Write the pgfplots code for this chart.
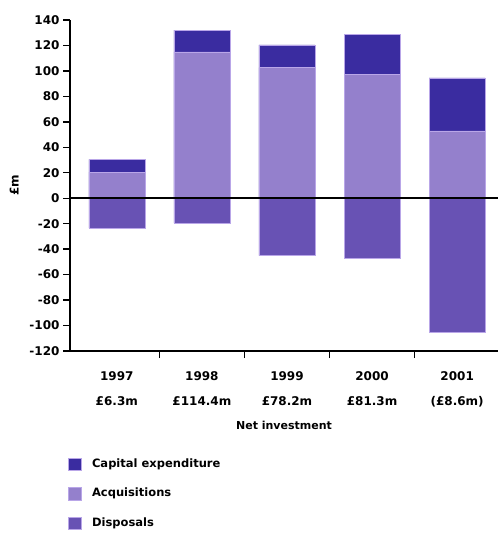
\documentclass[border=0pt]{standalone}
\usepackage{pgfplots}
\pgfplotsset{compat=1.18}
\usepackage{fontspec}
\setmainfont{DejaVu Sans}
\definecolor{capex}{RGB}{58,44,160}
\definecolor{acq}{RGB}{148,128,204}
\definecolor{disp}{RGB}{104,82,180}
\definecolor{edge}{RGB}{185,166,232}
\begin{document}
\begin{tikzpicture}
\path (0pt,0pt) rectangle (498pt,535pt);
\begin{axis}[
  at={(70pt,184pt)}, anchor=south west,
  scale only axis, width=428pt, height=331pt,
  xmin=-0.55, xmax=4.48, ymin=-120, ymax=140,
  axis lines=left, axis line style={-, line width=1.6pt},
  ytick={-120,-100,...,140},
  yticklabel style={font=\fontsize{12}{14}\selectfont\bfseries},
  /pgf/number format/assume math mode=true,
  tick align=outside, major tick length=7pt,
  tick style={black, line width=1.4pt},
  xtick={0.5,1.5,2.5,3.5}, xticklabels={},
  extra x ticks={0,1,2,3,4},
  extra x tick labels={{1997\\£6.3m},{1998\\£114.4m},{1999\\£78.2m},{2000\\£81.3m},{2001\\(£8.6m)}},
  extra x tick style={major tick length=0pt, tick style={draw=none},
    tick label style={align=center, font=\fontsize{12}{25}\selectfont\bfseries, yshift=-17pt}},
  xlabel={Net investment},
  xlabel style={font=\fontsize{11}{13}\selectfont\bfseries, yshift=0pt},
  ylabel={£m},
  ylabel style={font=\fontsize{12}{14}\selectfont\bfseries, yshift=4pt},
  ybar legend/.style={legend image code/.code={\path[##1, draw=edge, line width=0.5pt] (0pt,-6.25pt) rectangle (12.5pt,6.25pt);}},
  legend style={at={(axis description cs:-0.005,-0.317)}, anchor=north west,
    draw=none, fill=none, row sep=13.5pt, inner sep=0pt,
    nodes={text height=9pt, text depth=3pt, inner sep=2pt},
    /tikz/every odd column/.append style={column sep=9pt},
    font=\fontsize{11.5}{14}\selectfont\bfseries},
  legend cell align=left,
  ybar, bar width=56pt,
]
\addplot[fill=capex, draw=edge, line width=0.5pt, bar shift=0pt] coordinates {(0,30.5) (1,132) (2,120.5) (3,128.5) (4,94.5)};
\addlegendentry{Capital expenditure}
\addplot[fill=acq, draw=edge, line width=0.5pt, bar shift=0pt] coordinates {(0,20.5) (1,115) (2,102.5) (3,97) (4,53)};
\addlegendentry{Acquisitions}
\addplot[fill=disp, draw=edge, line width=0.5pt, bar shift=0pt] coordinates {(0,-23.5) (1,-19.5) (2,-45) (3,-47) (4,-105)};
\addlegendentry{Disposals}
\draw[black, line width=1.6pt] ({rel axis cs:0,0}|-{axis cs:0,0}) -- ({rel axis cs:1,0}|-{axis cs:0,0});
\end{axis}
\end{tikzpicture}
\end{document}
